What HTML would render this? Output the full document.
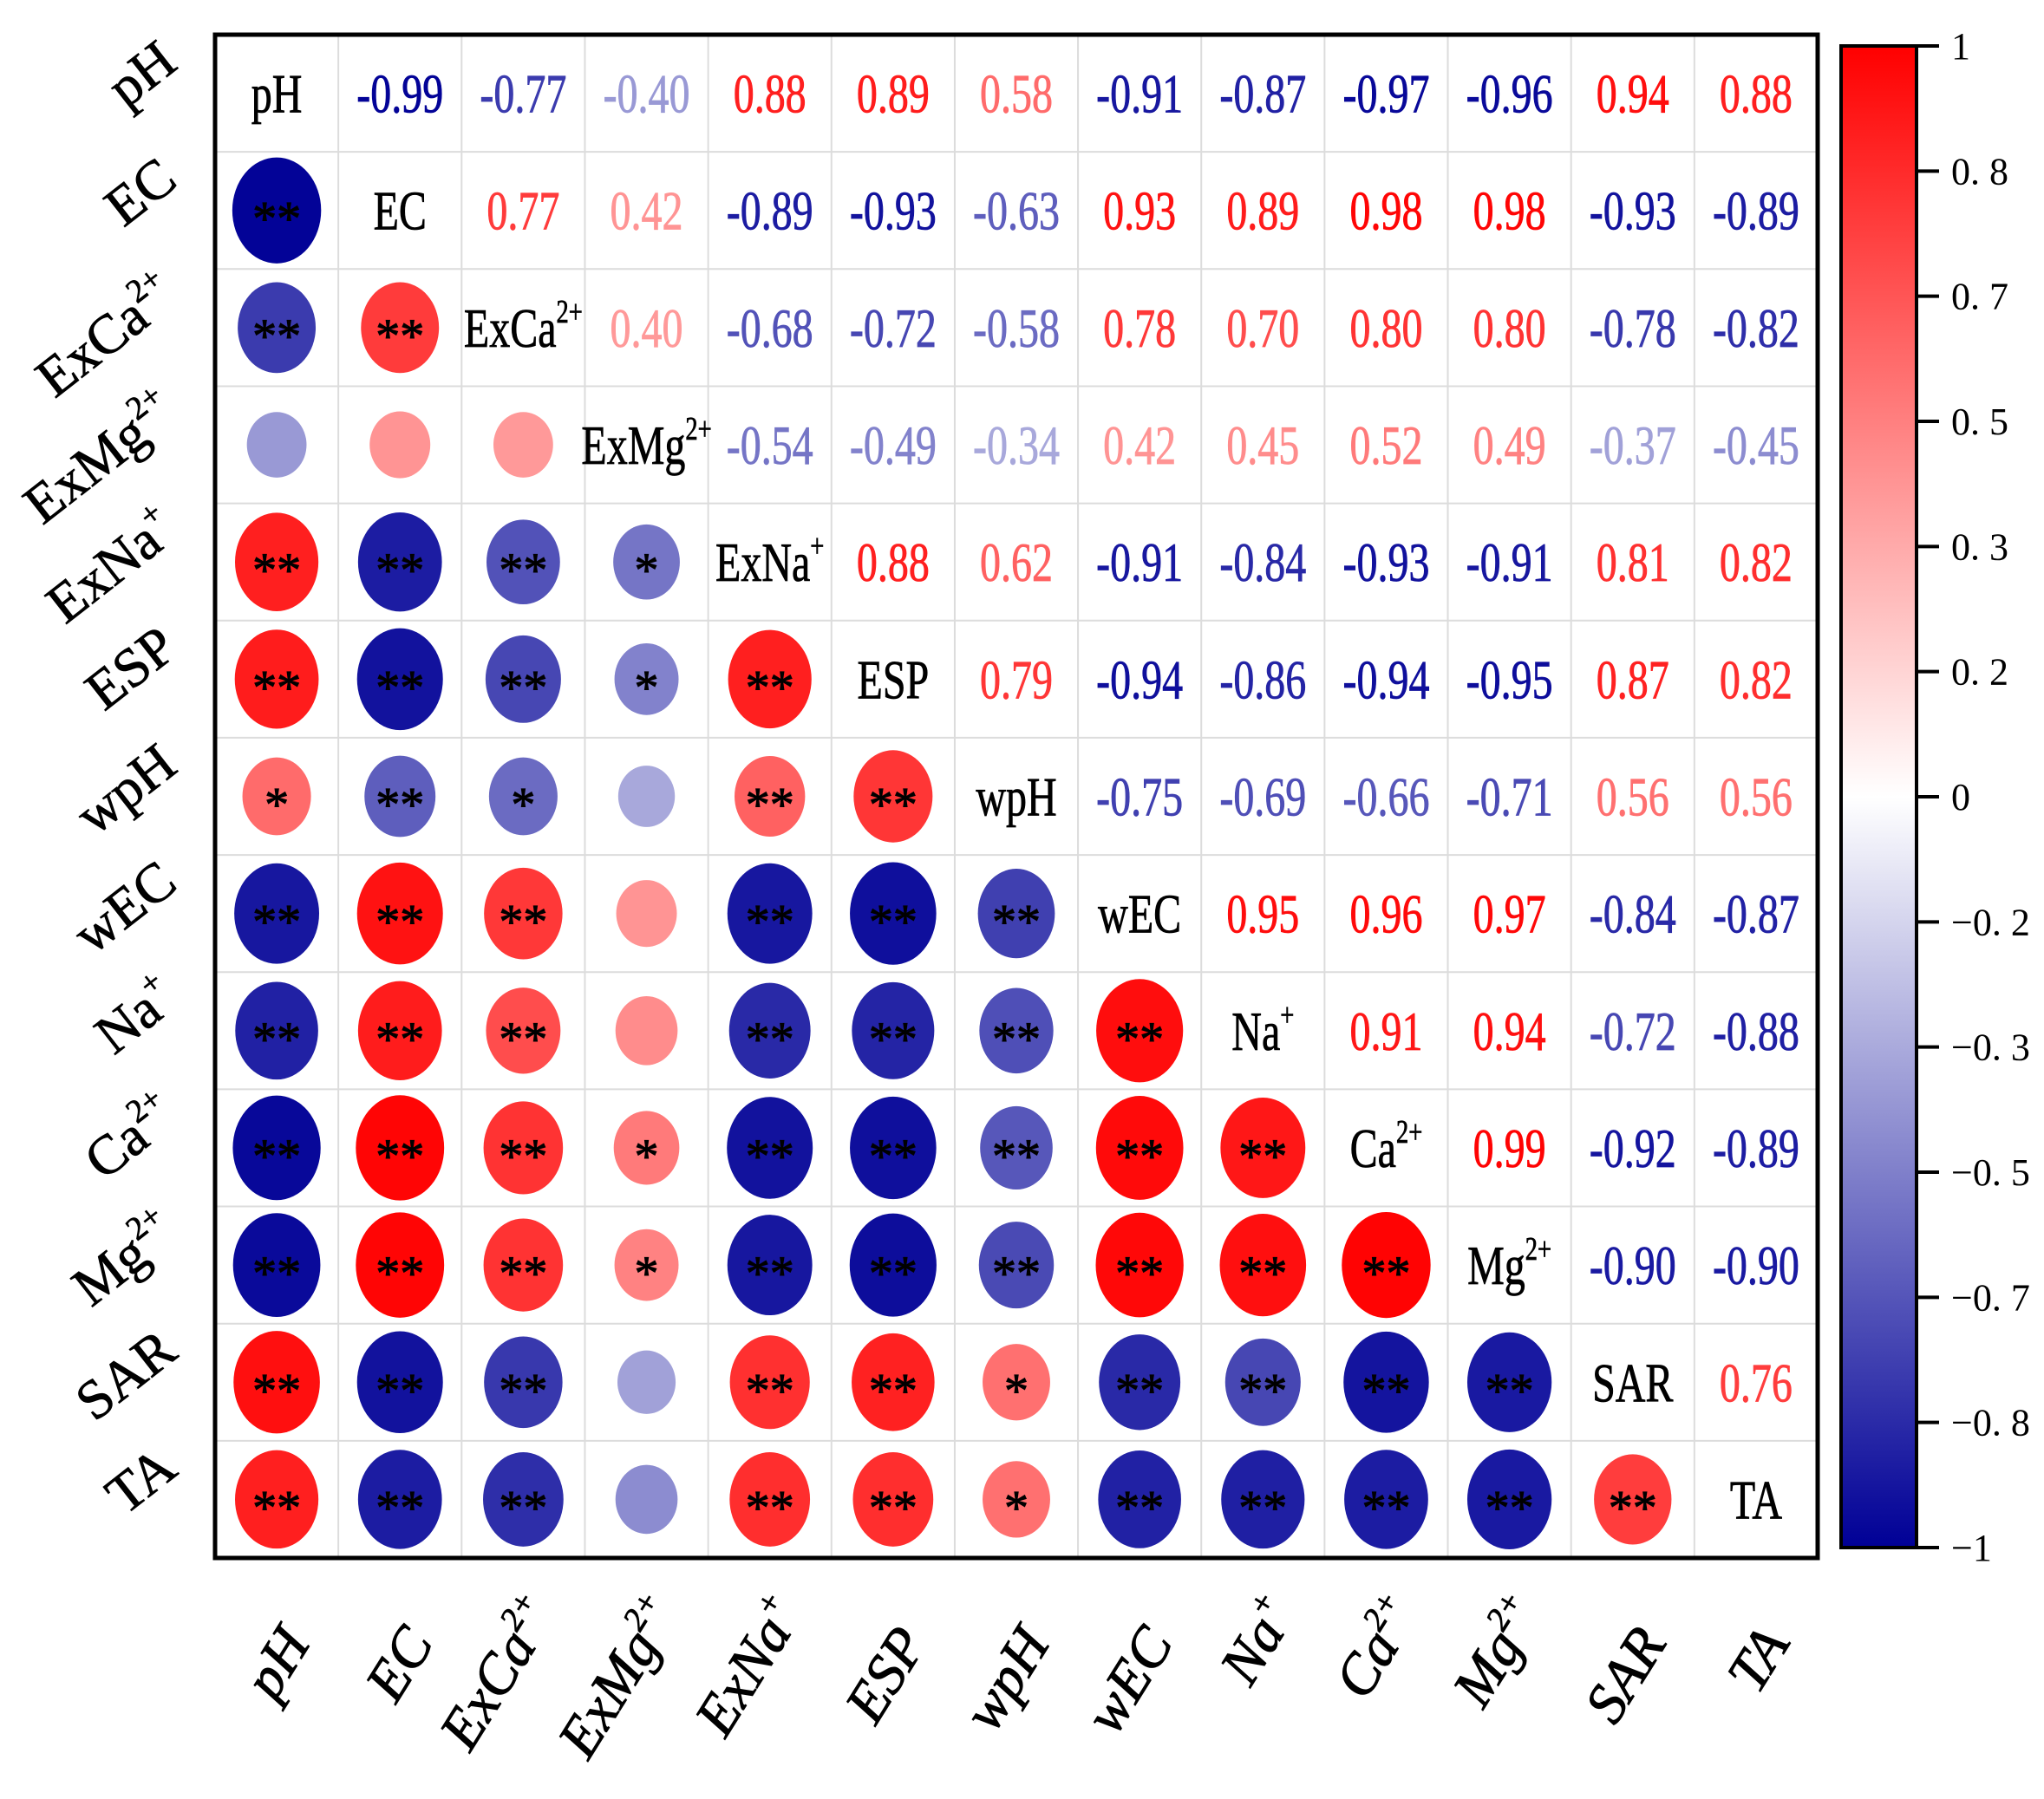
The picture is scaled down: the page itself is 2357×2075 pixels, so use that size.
<!DOCTYPE html>
<html><head><meta charset="utf-8"><style>
html,body{margin:0;padding:0;background:#fff;}
svg{display:block;}
text{font-family:"Liberation Serif",serif;}
</style></head><body>
<svg id="chart" width="2357" height="2075" viewBox="0 0 2357 2075" xmlns="http://www.w3.org/2000/svg">
<defs>
<linearGradient id="cbgrad" x1="0" y1="0" x2="0" y2="1">
<stop offset="0" stop-color="#ff0000"/><stop offset="0.5" stop-color="#ffffff"/><stop offset="1" stop-color="#000096"/>
</linearGradient>
</defs>
<g id="cells"></g>
<g id="labels"></g>
<g id="cbar"></g>
</svg>
<script>
const names = ['pH','EC','ExCa','ExMg','ExNa','ESP','wpH','wEC','Na','Ca','Mg','SAR','TA'];
const sups = ['','','2+','2+','+','','','','+','2+','2+','',''];
const upperRows = [
 [-0.99,-0.77,-0.40,0.88,0.89,0.58,-0.91,-0.87,-0.97,-0.96,0.94,0.88],
 [0.77,0.42,-0.89,-0.93,-0.63,0.93,0.89,0.98,0.98,-0.93,-0.89],
 [0.40,-0.68,-0.72,-0.58,0.78,0.70,0.80,0.80,-0.78,-0.82],
 [-0.54,-0.49,-0.34,0.42,0.45,0.52,0.49,-0.37,-0.45],
 [0.88,0.62,-0.91,-0.84,-0.93,-0.91,0.81,0.82],
 [0.79,-0.94,-0.86,-0.94,-0.95,0.87,0.82],
 [-0.75,-0.69,-0.66,-0.71,0.56,0.56],
 [0.95,0.96,0.97,-0.84,-0.87],
 [0.91,0.94,-0.72,-0.88],
 [0.99,-0.92,-0.89],
 [-0.90,-0.90],
 [0.76]
];
const starRows = [
 [],
 ['**'],
 ['**','**'],
 ['','',''],
 ['**','**','**','*'],
 ['**','**','**','*','**'],
 ['*','**','*','','**','**'],
 ['**','**','**','','**','**','**'],
 ['**','**','**','','**','**','**','**'],
 ['**','**','**','*','**','**','**','**','**'],
 ['**','**','**','*','**','**','**','**','**','**'],
 ['**','**','**','','**','**','*','**','**','**','**'],
 ['**','**','**','','**','**','*','**','**','**','**','**']
];
const cbTicks = [1,0.8333,0.6667,0.5,0.3333,0.1667,0,-0.1667,-0.3333,-0.5,-0.6667,-0.8333,-1];
const cbTickLabels = ['1','0. 8','0. 7','0. 5','0. 3','0. 2','0','\u22120. 2','\u22120. 3','\u22120. 5','\u22120. 7','\u22120. 8','\u22121'];

const NS='http://www.w3.org/2000/svg';
const GX0=248, GX1=2096, GY0=40, GY1=1797, N=names.length;
const CW=(GX1-GX0)/N, CH=(GY1-GY0)/N;
const cx = j => GX0 + CW*(j+0.5);
const cy = i => GY0 + CH*(i+0.5);
const CB_X0=2123, CB_X1=2210, CB_Y0=53, CB_Y1=1785;
const cbY = v => CB_Y0 + (1-v)/2*(CB_Y1-CB_Y0);
function color(r){
  const t=Math.min(1,Math.abs(r));
  if(r>=0){const g=Math.round(255*(1-t));return `rgb(255,${g},${g})`;}
  const c=Math.round(255*(1-t));return `rgb(${c},${c},${Math.round(255-(105)*t)})`;
}
function mk(tag,attrs,parent){const e=document.createElementNS(NS,tag);for(const k in attrs)e.setAttribute(k,attrs[k]);parent.appendChild(e);return e;}
function corr(i,j){ if(i===j) return 1; const a=Math.min(i,j), b=Math.max(i,j); return upperRows[a][b-a-1]; }

const cells=document.getElementById('cells');
for(let k=1;k<N;k++){
  const v=mk('line',{x1:GX0+CW*k,y1:GY0,x2:GX0+CW*k,y2:GY1,stroke:'#dcdcdc','stroke-width':2},cells);
  
  
  const h=mk('line',{x1:GX0,y1:GY0+CH*k,x2:GX1,y2:GY0+CH*k,stroke:'#dcdcdc','stroke-width':2},cells);
  
  
}
for(let i=0;i<N;i++){
  for(let j=0;j<N;j++){
    if(i===j){
      const t=mk('text',{transform:`translate(${cx(j)},${cy(i)+22}) scale(0.75,1)`,'text-anchor':'middle','font-size':64,fill:'#000',stroke:'#000','stroke-width':0.8},cells);
      t.textContent=names[i];
      if(sups[i]){const s=mk('tspan',{'font-size':38,dy:-28},t);s.textContent=sups[i];}
      
      
    } else if(j>i){
      const r=corr(i,j);
      const t=mk('text',{transform:`translate(${cx(j)},${cy(i)+22}) scale(0.75,1)`,'text-anchor':'middle','font-size':64,fill:color(r),stroke:color(r),'stroke-width':0.8},cells);
      t.textContent=r.toFixed(2);
      
      
    } else {
      const r=corr(i,j), a=Math.abs(r);
      const e=mk('ellipse',{cx:cx(j),cy:cy(i),rx:(46+57*a)/2,ry:(44+79*a)/2,fill:color(r)},cells);
      
      
      const st=starRows[i][j];
      if(st){
        const t=mk('text',{x:cx(j),y:cy(i)+28,'text-anchor':'middle','font-size':56,fill:'#000',stroke:'#000','stroke-width':1},cells);
        t.textContent=st;
        
        
      }
    }
  }
}
const border=mk('rect',{x:GX0,y:GY0,width:GX1-GX0,height:GY1-GY0,fill:'none',stroke:'#000','stroke-width':5},cells);



const labels=document.getElementById('labels');
for(let i=0;i<N;i++){
  const t=mk('text',{transform:`translate(207,${cy(i)-30}) rotate(-38)`,'text-anchor':'end','font-size':64,fill:'#000',stroke:'#000','stroke-width':0.8},labels);
  t.textContent=names[i];
  if(sups[i]){const s=mk('tspan',{'font-size':38,dy:-28},t);s.textContent=sups[i];}
  
  
  const b=mk('text',{transform:`translate(${cx(i)+40},${sups[i]?1860:1895}) rotate(-58)`,'text-anchor':'end','font-size':66,'font-style':'italic',fill:'#000',stroke:'#000','stroke-width':1},labels);
  b.textContent=names[i];
  if(sups[i]){const s=mk('tspan',{'font-size':38,dy:-28},b);s.textContent=sups[i];}
  
  
}

const cb=document.getElementById('cbar');
const bar=mk('rect',{x:CB_X0,y:CB_Y0,width:CB_X1-CB_X0,height:CB_Y1-CB_Y0,fill:'url(#cbgrad)',stroke:'#000','stroke-width':4},cb);


for(let k=0;k<cbTicks.length;k++){
  const y=cbY(cbTicks[k]);
  const l=mk('line',{x1:CB_X1,y1:y,x2:CB_X1+26,y2:y,stroke:'#000','stroke-width':4},cb);
  
  
  const t=mk('text',{x:CB_X1+40,y:y+15,'font-size':44,fill:'#000'},cb);
  t.textContent=cbTickLabels[k];
  
  
}
</script>
</body></html>
